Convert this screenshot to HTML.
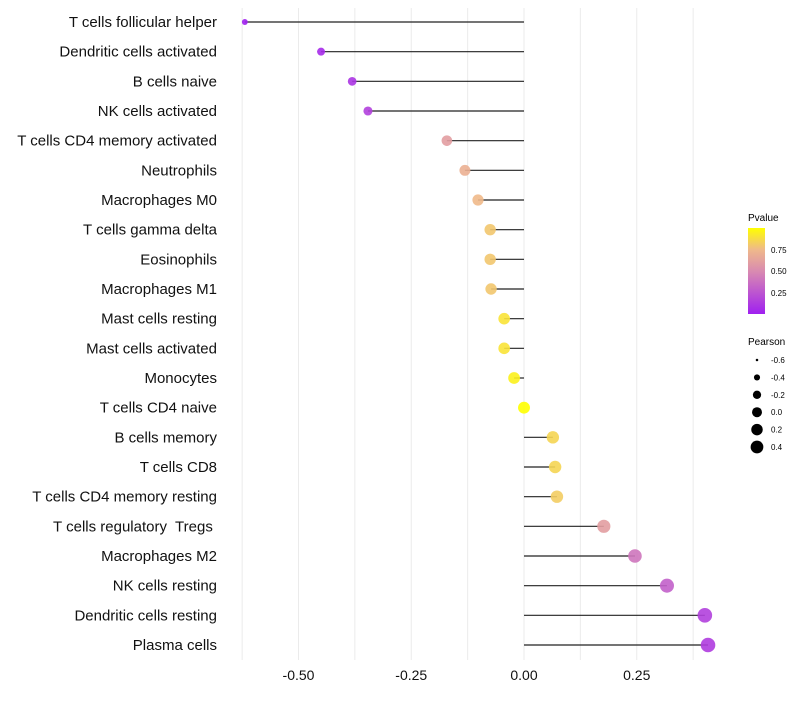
<!DOCTYPE html>
<html><head><meta charset="utf-8"><style>
body{margin:0;background:#fff;font-family:"Liberation Sans",sans-serif}
svg text{font-family:"Liberation Sans",sans-serif;white-space:pre}
</style></head><body>
<svg id="c" width="800" height="700">
<defs><linearGradient id="pg" x1="0" y1="1" x2="0" y2="0">
<stop offset="0" stop-color="#a020f0"/><stop offset="0.5" stop-color="#d98bb0"/><stop offset="0.75" stop-color="#efb98a"/><stop offset="1" stop-color="#ffff00"/></linearGradient></defs>
<g id="grid"></g><g id="marks"></g><g id="labels"></g><g id="xt"></g>
<g>
<text x="748" y="221" font-size="10">Pvalue</text>
<rect x="748" y="228" width="17" height="86" fill="url(#pg)"/>
<text x="771" y="253" font-size="8">0.75</text>
<text x="771" y="274" font-size="8">0.50</text>
<text x="771" y="296" font-size="8">0.25</text>
</g>
<g id="sl">
<text x="748" y="345" font-size="10">Pearson</text>
</g>
</svg>
<script>
const categories=["T cells follicular helper","Dendritic cells activated","B cells naive","NK cells activated","T cells CD4 memory activated","Neutrophils","Macrophages M0","T cells gamma delta","Eosinophils","Macrophages M1","Mast cells resting","Mast cells activated","Monocytes","T cells CD4 naive","B cells memory","T cells CD8","T cells CD4 memory resting","T cells regulatory  Tregs ","Macrophages M2","NK cells resting","Dendritic cells resting","Plasma cells"];
const pearson=[-0.619,-0.450,-0.381,-0.346,-0.171,-0.131,-0.102,-0.075,-0.075,-0.073,-0.044,-0.044,-0.022,0.0,0.064,0.069,0.073,0.177,0.246,0.317,0.401,0.408];
const pvalue=[0.0,0.05,0.1,0.15,0.6,0.7,0.75,0.8,0.8,0.8,0.9,0.9,0.95,1.0,0.85,0.85,0.82,0.6,0.4,0.3,0.15,0.13];
const xTicks=[-0.5,-0.25,0,0.25];
const xTickLabels=["-0.50","-0.25","0.00","0.25"];
const legendValues=[-0.6,-0.4,-0.2,0.0,0.2,0.4];
const legendLabels=["-0.6","-0.4","-0.2","0.0","0.2","0.4"];
const NS="http://www.w3.org/2000/svg";
const X=v=>524+v*451;
const Y=i=>22+i*(623/21);
const R=v=>Math.sqrt(Math.max(3,35.6+43.5*v));
const RL=v=>Math.sqrt(Math.max(0.8,25+39*v));
const stops=[[0,[160,32,240]],[0.5,[217,139,176]],[0.75,[239,185,138]],[1,[255,255,0]]];
function col(p){for(let i=1;i<stops.length;i++){if(p<=stops[i][0]){const a=stops[i-1],b=stops[i],t=(p-a[0])/(b[0]-a[0]);return "rgb("+a[1].map((c,k)=>Math.round(c+(b[1][k]-c)*t)).join(",")+")";}}return "rgb(255,255,0)";}
function el(t,a,p){const e=document.createElementNS(NS,t);for(const k in a)e.setAttribute(k,a[k]);p.appendChild(e);return e;}
const g=document.getElementById('grid'),m=document.getElementById('marks'),lb=document.getElementById('labels'),xt=document.getElementById('xt'),sl=document.getElementById('sl');
for(let v=-0.625;v<=0.376;v+=0.125){const l=el('line',{x1:X(v),x2:X(v),y1:8,y2:660,stroke:'#ebebeb','stroke-width':1},g);

}
categories.forEach((c,i)=>{
const s=el('line',{x1:X(0),x2:X(pearson[i]),y1:Y(i),y2:Y(i),stroke:'#222','stroke-width':1.2},m);


const d=el('circle',{cx:X(pearson[i]),cy:Y(i),r:R(pearson[i]),fill:col(pvalue[i]),'fill-opacity':0.9},m);


const t=el('text',{x:217,y:Y(i)+5,'text-anchor':'end','font-size':15,fill:'#111'},lb);t.textContent=c;


});
xTicks.forEach((v,i)=>{const t=el('text',{x:X(v),y:680,'text-anchor':'middle','font-size':14,fill:'#111'},xt);t.textContent=xTickLabels[i];

});
legendValues.forEach((v,i)=>{const y=360+i*17.4;
const c=el('circle',{cx:757,cy:y,r:RL(v),fill:'#000'},sl);


const t=el('text',{x:771,y:y+3,'font-size':8},sl);t.textContent=legendLabels[i];

});
</script>
</body></html>
